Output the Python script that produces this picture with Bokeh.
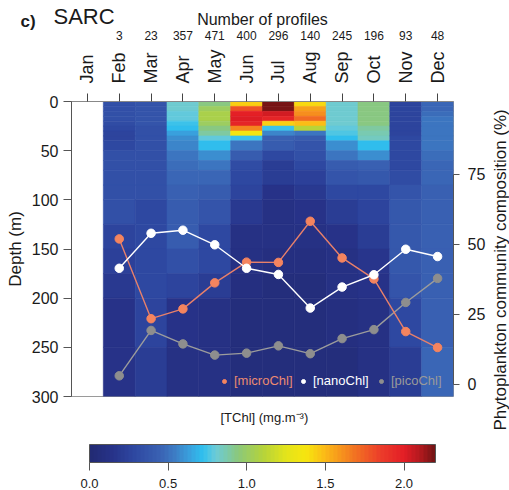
import math
from bokeh.plotting import figure
from bokeh.layouts import row
from bokeh.models import (Range1d, LinearAxis, FixedTicker, ColumnDataSource, LinearColorMapper,
                          ColorBar, PrintfTickFormatter, Legend, LegendItem, Title)
from bokeh.embed import file_html
from bokeh.resources import INLINE

# ---------------- data ----------------
months = ["Jan", "Feb", "Mar", "Apr", "May", "Jun", "Jul", "Aug", "Sep", "Oct", "Nov", "Dec"]
month_idx = [1, 2, 3, 4, 5, 6, 7, 8, 9, 10, 11, 12]
profile_months = [2, 3, 4, 5, 6, 7, 8, 9, 10, 11, 12]
n_profiles = [3, 23, 357, 471, 400, 296, 140, 245, 196, 93, 48]

micro_chl = [52.0, 23.5, 27.0, 36.3, 43.7, 43.6, 58.3, 45.2, 37.7, 18.9, 13.2]
nano_chl = [41.5, 54.0, 55.1, 49.9, 41.5, 39.3, 27.3, 34.8, 39.2, 48.3, 45.7]
pico_chl = [3.1, 19.3, 14.5, 10.5, 11.2, 13.8, 11.0, 16.4, 19.6, 29.3, 37.9]

depth_edges = [0, 5, 10, 15, 20, 25, 30, 35, 40, 50, 60, 70, 85, 100, 125, 150, 175, 200, 250, 300]

tchl_feb = [0.33, 0.33, 0.33, 0.33, 0.32, 0.30, 0.25, 0.25, 0.30, 0.33, 0.33, 0.33, 0.33, 0.33, 0.25, 0.24, 0.18, 0.15, 0.15]
tchl_mar = [0.35, 0.35, 0.35, 0.35, 0.35, 0.34, 0.33, 0.33, 0.33, 0.33, 0.33, 0.33, 0.33, 0.30, 0.30, 0.28, 0.28, 0.27, 0.20]
tchl_apr = [0.80, 0.80, 0.79, 0.78, 0.74, 0.70, 0.64, 0.60, 0.55, 0.50, 0.48, 0.46, 0.45, 0.42, 0.40, 0.33, 0.25, 0.15, 0.12]
tchl_may = [0.93, 1.02, 1.05, 1.05, 1.00, 0.95, 0.88, 0.78, 0.70, 0.60, 0.52, 0.47, 0.40, 0.35, 0.30, 0.28, 0.22, 0.12, 0.10]
tchl_jun = [1.45, 1.80, 1.98, 2.00, 1.95, 1.65, 1.35, 0.75, 0.52, 0.40, 0.32, 0.28, 0.25, 0.18, 0.12, 0.10, 0.08, 0.07, 0.06]
tchl_jul = [2.20, 2.20, 2.05, 1.95, 1.45, 0.75, 0.55, 0.45, 0.42, 0.28, 0.22, 0.20, 0.15, 0.12, 0.10, 0.08, 0.07, 0.06, 0.06]
tchl_aug = [1.42, 1.55, 1.60, 1.70, 1.50, 1.10, 0.50, 0.40, 0.37, 0.33, 0.28, 0.23, 0.18, 0.14, 0.10, 0.08, 0.07, 0.06, 0.06]
tchl_sep = [0.80, 0.80, 0.80, 0.80, 0.80, 0.78, 0.77, 0.72, 0.60, 0.50, 0.42, 0.36, 0.28, 0.22, 0.15, 0.12, 0.10, 0.08, 0.07]
tchl_oct = [0.93, 0.93, 0.93, 0.93, 0.93, 0.90, 0.86, 0.84, 0.72, 0.58, 0.45, 0.38, 0.30, 0.25, 0.22, 0.17, 0.14, 0.12, 0.10]
tchl_nov = [0.26, 0.26, 0.26, 0.26, 0.26, 0.27, 0.27, 0.28, 0.28, 0.30, 0.30, 0.32, 0.35, 0.38, 0.38, 0.38, 0.36, 0.30, 0.22]
tchl_dec = [0.47, 0.47, 0.48, 0.50, 0.52, 0.50, 0.50, 0.52, 0.50, 0.48, 0.47, 0.46, 0.45, 0.45, 0.44, 0.44, 0.45, 0.45, 0.47]
tchl_profiles = [tchl_feb, tchl_mar, tchl_apr, tchl_may, tchl_jun, tchl_jul,
                 tchl_aug, tchl_sep, tchl_oct, tchl_nov, tchl_dec]

cb_ticks = [0.0, 0.5, 1.0, 1.5, 2.0]
pct_ticks = [0, 25, 50, 75]
depth_ticks = [0, 50, 100, 150, 200, 250, 300]

# ---------------- palette (jet-like) ----------------
anchors = [(0.0, "#222a72"), (0.15, "#27338a"), (0.30, "#2f4aa3"), (0.45, "#3a62b3"),
           (0.55, "#3d80c7"), (0.65, "#38a5e0"), (0.72, "#2fc0ef"), (0.80, "#6ccbd8"),
           (0.95, "#8cc87a"), (1.10, "#b4d33c"), (1.25, "#e4e41a"), (1.38, "#f7e50f"),
           (1.50, "#fbb817"), (1.65, "#f48020"), (1.85, "#ec3d2a"), (2.00, "#e31d26"),
           (2.10, "#b51a1f"), (2.20, "#6e1313")]


def hex2rgb(h):
    return tuple(int(h[i:i + 2], 16) for i in (1, 3, 5))


def make_palette(n, vmax=2.2):
    pal = []
    for k in range(n):
        v = (k + 0.5) / n * vmax
        for (a, ca), (b, cb) in zip(anchors[:-1], anchors[1:]):
            if a <= v <= b:
                t = (v - a) / (b - a)
                r1, g1, b1 = hex2rgb(ca)
                r2, g2, b2 = hex2rgb(cb)
                pal.append("#%02x%02x%02x" % (round(r1 + t * (r2 - r1)), round(g1 + t * (g2 - g1)),
                                              round(b1 + t * (b2 - b1))))
                break
    return pal


palette = make_palette(88)
mapper = LinearColorMapper(palette=palette, low=0.0, high=2.2)

FONT = "Liberation Sans"
TXT = "#1a1a1a"

# ---------------- main figure ----------------
p = figure(width=488, height=490, output_backend="svg", toolbar_location=None,
           x_range=Range1d(0.5, 12.5), y_range=Range1d(300, 0),
           x_axis_location=None, y_axis_location="left",
           min_border_left=71, min_border_right=33, min_border_top=101, min_border_bottom=94)
p.grid.visible = False
p.outline_line_color = "#9a9a9a"
p.background_fill_color = "white"
p.extra_y_ranges = {"pct": Range1d(-4.29, 101.07)}

# heatmap cells
left, right, top, bottom, vals = [], [], [], [], []
for m, prof in zip(profile_months, tchl_profiles):
    for j, v in enumerate(prof):
        left.append(m - 0.5)
        right.append(m + 0.5)
        top.append(depth_edges[j])
        bottom.append(depth_edges[j + 1])
        vals.append(v)
hsrc = ColumnDataSource(dict(left=left, right=right, top=top, bottom=bottom, val=vals))
p.quad(left="left", right="right", top="top", bottom="bottom", source=hsrc,
       fill_color={"field": "val", "transform": mapper},
       line_color={"field": "val", "transform": mapper}, line_width=0.6)

# composition lines
psrc = ColumnDataSource(dict(x=profile_months, micro=micro_chl, nano=nano_chl, pico=pico_chl))
p.line("x", "pico", source=psrc, y_range_name="pct", line_color="#9c9c9c", line_width=1.4)
r_pico = p.scatter("x", "pico", source=psrc, y_range_name="pct", size=8.5,
                   fill_color="#8e8e8e", line_color="#8e8e8e")
p.line("x", "micro", source=psrc, y_range_name="pct", line_color="#e8806a", line_width=1.4)
r_micro = p.scatter("x", "micro", source=psrc, y_range_name="pct", size=8.5,
                    fill_color="#f4845f", line_color="#f4845f")
p.line("x", "nano", source=psrc, y_range_name="pct", line_color="white", line_width=1.4)
r_nano = p.scatter("x", "nano", source=psrc, y_range_name="pct", size=8.5,
                   fill_color="white", line_color="white")

# left axis
ya = p.yaxis[0]
ya.ticker = FixedTicker(ticks=depth_ticks)
ya.axis_label = "Depth (m)"
ya.axis_label_text_font = FONT
ya.axis_label_text_font_size = "17px"
ya.axis_label_text_font_style = "normal"
ya.axis_label_text_color = TXT
ya.axis_label_standoff = 4
ya.major_label_text_font = FONT
ya.major_label_text_font_size = "16px"
ya.major_label_text_color = TXT
ya.major_label_standoff = 5
ya.major_tick_out = 8
ya.major_tick_in = 0
ya.minor_tick_out = 0
ya.minor_tick_in = 0
ya.axis_line_color = "#555555"
ya.major_tick_line_color = "#555555"

# right axis (percent), its title is drawn in the narrow figure on the right
ra = LinearAxis(y_range_name="pct", ticker=FixedTicker(ticks=pct_ticks), bounds=(0, 75))
ra.major_label_text_font = FONT
ra.major_label_text_font_size = "16px"
ra.major_label_text_color = TXT
ra.major_label_standoff = 8
ra.major_tick_out = 6
ra.major_tick_in = 0
ra.minor_tick_out = 0
ra.minor_tick_in = 0
ra.axis_line_color = "#555555"
ra.major_tick_line_color = "#555555"
p.add_layout(ra, "right")

# top axis with months
ma = LinearAxis(ticker=FixedTicker(ticks=month_idx),
                major_label_overrides={m: n for m, n in zip(month_idx, months)})
ma.major_label_orientation = math.pi / 2
ma.major_label_text_font = FONT
ma.major_label_text_font_size = "18px"
ma.major_label_text_color = TXT
ma.major_label_standoff = 10
ma.major_tick_out = 8
ma.major_tick_in = 0
ma.minor_tick_out = 0
ma.minor_tick_in = 0
ma.axis_line_color = "#888888"
ma.major_tick_line_color = "#444444"
p.add_layout(ma, "above")

# top axis carrying the number of profiles
ca = LinearAxis(ticker=FixedTicker(ticks=profile_months),
                major_label_overrides={m: str(n) for m, n in zip(profile_months, n_profiles)},
                axis_label="Number of profiles")
ca.major_label_text_font = FONT
ca.major_label_text_font_size = "12px"
ca.major_label_text_color = TXT
ca.major_label_standoff = 7
ca.major_tick_out = 0
ca.major_tick_in = 0
ca.minor_tick_out = 0
ca.minor_tick_in = 0
ca.axis_line_color = None
ca.axis_label_text_font = FONT
ca.axis_label_text_font_size = "16px"
ca.axis_label_text_font_style = "normal"
ca.axis_label_text_color = TXT
ca.axis_label_standoff = 0
p.add_layout(ca, "above")


# free texts outside the frame: colour-bar annotations whose bar is invisible
def text_box(text, x, y, size, style="normal"):
    return ColorBar(color_mapper=mapper, orientation="horizontal", width=1, height=1,
                    title=text, title_text_font=FONT, title_text_font_size=size,
                    title_text_font_style=style, title_text_color=TXT, title_standoff=0,
                    ticker=FixedTicker(ticks=[]), major_tick_line_color=None,
                    minor_tick_line_color=None, major_label_text_alpha=0,
                    scale_alpha=0, bar_line_color=None, background_fill_alpha=0,
                    border_line_color=None, padding=0, margin=0, location=(x, y))


p.add_layout(text_box("c)", -51, 365, "17px", "bold"))
p.add_layout(text_box("SARC", -18, 367, "22px"))
p.add_layout(text_box("[TChl] (mg.m\u207b\u00b3)", 149, -29, "13px"))

# legends (one per series to colour the text)
for r, lab, col, xloc in [(r_micro, "[microChl]", "#ec8a70", 148),
                          (r_nano, "[nanoChl]", "white", 227),
                          (r_pico, "[picoChl]", "#9a9a9a", 305)]:
    lg = Legend(items=[LegendItem(label=lab, renderers=[r])], location=(xloc, 8),
                orientation="horizontal", label_text_font=FONT, label_text_font_size="13px",
                label_text_color=col, glyph_width=10, glyph_height=12, label_height=12,
                label_standoff=5, padding=0, margin=0, spacing=0,
                background_fill_alpha=0, border_line_alpha=0)
    p.add_layout(lg)

# colour bar (outside the frame, below it)
cbar = ColorBar(color_mapper=mapper, orientation="horizontal", width=346, height=18,
                ticker=FixedTicker(ticks=cb_ticks), formatter=PrintfTickFormatter(format="%.1f"),
                major_label_text_font=FONT, major_label_text_font_size="13px",
                major_label_text_color=TXT,
                major_tick_out=8, major_tick_in=0, major_tick_line_color="#555555",
                minor_tick_line_color=None, bar_line_color="#555555",
                label_standoff=8, padding=0, margin=0, location=(18, -94),
                background_fill_alpha=0, border_line_alpha=0)
p.add_layout(cbar)

# ---------------- narrow figure holding the right-hand axis title ----------------
q = figure(width=21, height=490, output_backend="svg", toolbar_location=None,
           x_axis_location=None, y_axis_location=None,
           min_border_left=0, min_border_right=0, min_border_top=101, min_border_bottom=94)
q.grid.visible = False
q.outline_line_color = None
q.background_fill_alpha = 0
q.add_layout(Title(text="Phytoplankton community composition (%)", align="left", offset=-34,
                   text_font=FONT, text_font_size="17px", text_font_style="normal",
                   text_color=TXT, standoff=0), "left")

layout = row(p, q, spacing=0)
open("out.html", "w").write(file_html(layout, INLINE))
